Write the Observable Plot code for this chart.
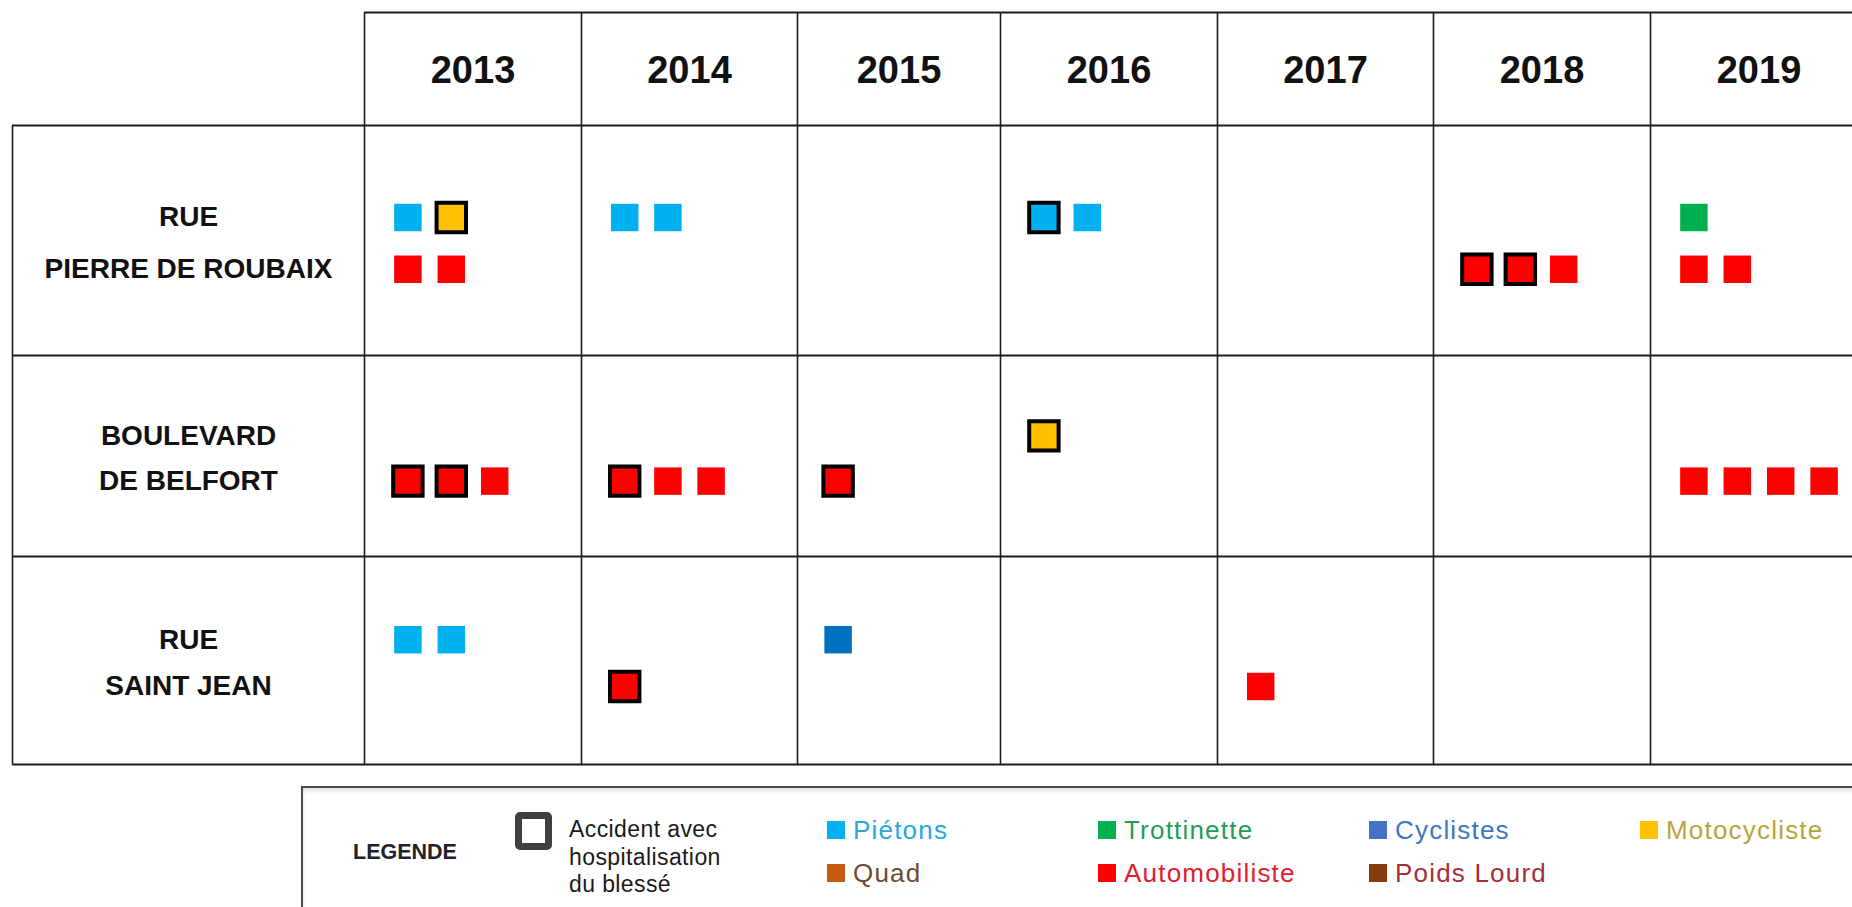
<!DOCTYPE html>
<html lang="fr">
<head>
<meta charset="utf-8">
<script src="https://cdn.jsdelivr.net/npm/d3@7"></script>
<script src="https://cdn.jsdelivr.net/npm/@observablehq/plot@0.6"></script>
<style>
  html, body { margin: 0; padding: 0; background: #fff; overflow: hidden; }
  #page { position: relative; width: 1852px; height: 907px; overflow: hidden; background: #fff; }
  #chart { position: absolute; left: 0; top: 0; }
  #legendBox {
    position: absolute; left: 301px; top: 786px; width: 1700px; height: 200px;
    border: 2px solid #4a4a4a; box-shadow: inset 0 3px 4px rgba(0,0,0,0.13); box-sizing: border-box;
  }
  #legendTitle {
    position: absolute; left: 353px; top: 842px; font: bold 21.5px/1 "Liberation Sans", Arial, sans-serif;
    color: #23202a;
  }
  #hospIcon {
    position: absolute; left: 515px; top: 812px; width: 37px; height: 38px; box-sizing: border-box;
    border: 7px solid #404040; border-radius: 5px; background: #fff;
  }
  #hospText {
    position: absolute; left: 569px; top: 816px; font: 23px/27.5px "Liberation Sans", Arial, sans-serif;
    letter-spacing: 0.4px; color: #1a1a1a;
  }
  #legendItems {
    position: absolute; left: 827px; top: 817px; display: grid;
    grid-template-columns: repeat(4, 271px); grid-auto-rows: 43px;
  }
  .item { font: 26px/26px "Liberation Sans", Arial, sans-serif; letter-spacing: 1.2px; white-space: nowrap; }
  .sw { display: inline-block; width: 18px; height: 18px; margin-right: 8px; vertical-align: baseline; }
</style>
</head>
<body>
<div id="page">
  <div id="chart"></div>
  <div id="legendBox"></div>
  <div id="legendTitle">LEGENDE</div>
  <div id="hospIcon"></div>
  <div id="hospText">Accident avec<br>hospitalisation<br>du blessé</div>
  <div id="legendItems"></div>
</div>
<script>
// ---------- DATA ----------
const years = [2013, 2014, 2015, 2016, 2017, 2018, 2019];
const streets = ["RUE\nPIERRE DE ROUBAIX", "BOULEVARD\nDE BELFORT", "RUE\nSAINT JEAN"];

// user types (legend order: row 1 then row 2)
const types = ["Piétons", "Trottinette", "Cyclistes", "Motocycliste", "Quad", "Automobiliste", "Poids Lourd"];
const typeColors = ["#00B0F0", "#00B050", "#0070C0", "#FFC000", "#C55A11", "#FF0000", "#843C0C"];
const legendSwatches = ["#00B0F0", "#00B050", "#4472C4", "#FFC000", "#C55A11", "#FF0000", "#843C0C"];
const legendTextColors = ["#27A7DE", "#1E9E58", "#3B77C2", "#B9A33A", "#6E4B32", "#E2202B", "#A62E3C"];

// accidents: [street index, year, type, hospitalisation]
const accidents = [
  [0, 2013, "Piétons", false], [0, 2013, "Motocycliste", true],
  [0, 2013, "Automobiliste", false], [0, 2013, "Automobiliste", false],
  [0, 2014, "Piétons", false], [0, 2014, "Piétons", false],
  [0, 2016, "Piétons", true], [0, 2016, "Piétons", false],
  [0, 2018, "Automobiliste", true], [0, 2018, "Automobiliste", true], [0, 2018, "Automobiliste", false],
  [0, 2019, "Trottinette", false], [0, 2019, "Automobiliste", false], [0, 2019, "Automobiliste", false],
  [1, 2013, "Automobiliste", true], [1, 2013, "Automobiliste", true], [1, 2013, "Automobiliste", false],
  [1, 2014, "Automobiliste", true], [1, 2014, "Automobiliste", false], [1, 2014, "Automobiliste", false],
  [1, 2015, "Automobiliste", true],
  [1, 2016, "Motocycliste", true],
  [1, 2019, "Automobiliste", false], [1, 2019, "Automobiliste", false],
  [1, 2019, "Automobiliste", false], [1, 2019, "Automobiliste", false],
  [2, 2013, "Piétons", false], [2, 2013, "Piétons", false],
  [2, 2014, "Automobiliste", true],
  [2, 2015, "Cyclistes", false],
  [2, 2017, "Automobiliste", false]
];

// ---------- LAYOUT ----------
// scale units: column i spans [i, i+1], street row j spans [j, j+1];
// the street-name column is [-1, 0] and the year header row is [-1, 0].
const LINE_Y = [0.40, 0.625];   // upper line (others) / lower line (cars) inside a row

const counters = new Map();
const rows = accidents.map(([s, year, type, hosp]) => {
  const line = type === "Automobiliste" ? 1 : 0;
  const key = `${s}|${year}|${line}`;
  const slot = counters.get(key) || 0;
  counters.set(key, slot + 1);
  return {street: s, year, type, hosp, line, slot};
});
const px = d => years.indexOf(d.year) + (d.slot + 1) / 5;
const py = d => d.street + LINE_Y[d.line];

const colEdges = d3.range(years.length + 1);
const rowEdges = d3.range(streets.length + 1);
const labelLines = streets.flatMap((s, i) => s.split("\n").map((t, k) => ({t, i, k})));
const ink = "#1c1c1c";

// piecewise grid geometry (columns / rows of slightly different sizes)
const colPx = [12, 364, 581, 797, 1000, 1217, 1433, 1650, 1867];
const rowPx = [12, 125, 355, 556, 764];
const xWarp = d3.scaleLinear().domain([-1, ...colEdges]).range(colPx);
const yWarp = d3.scaleLinear().domain([-1, ...rowEdges]).range(rowPx);

const chart = Plot.plot({
  width: 1852,
  height: 775,
  x: {type: "linear", transform: xWarp, domain: [colPx[0], colPx[colPx.length - 1]],
      range: [colPx[0], colPx[colPx.length - 1]], axis: null},
  y: {type: "linear", transform: yWarp, domain: [rowPx[0], rowPx[rowPx.length - 1]],
      range: [rowPx[0], rowPx[rowPx.length - 1]], axis: null},
  color: {domain: types, range: typeColors},
  style: {fontFamily: "'Liberation Sans', Arial, sans-serif", background: "white"},
  marks: [
    Plot.ruleX(colEdges, {x: d => d, y1: -1, y2: streets.length, stroke: ink, strokeWidth: 1.6}),
    Plot.ruleX([-1], {x: d => d, y1: 0, y2: streets.length, stroke: ink, strokeWidth: 1.6}),
    Plot.ruleY([-1], {y: d => d, x1: 0, x2: years.length, stroke: ink, strokeWidth: 2}),
    Plot.ruleY(rowEdges, {y: d => d, x1: -1, x2: years.length, stroke: ink, strokeWidth: 2}),
    Plot.text(years, {x: (d, i) => i + 0.5, y: -0.5, dy: 2, text: d => String(d),
      fontSize: 38, fontWeight: "bold", fill: "#111"}),
    Plot.text(labelLines, {x: -0.5, y: d => d.i + LINE_Y[d.k], text: "t",
      fontSize: 28, fontWeight: "bold", fill: "#111"}),
    Plot.dot(rows.filter(d => !d.hosp), {x: px, y: py, fill: "type", symbol: "square", r: 15.5}),
    Plot.dot(rows.filter(d => d.hosp), {x: px, y: py, fill: "type", symbol: "square", r: 16.6,
      stroke: "#000", strokeWidth: 4})
  ]
});
document.getElementById("chart").appendChild(chart);

// ---------- LEGEND ----------
const items = document.getElementById("legendItems");
types.forEach((t, i) => {
  const div = document.createElement("div");
  div.className = "item";
  div.style.color = legendTextColors[i];
  const sw = document.createElement("span");
  sw.className = "sw";
  sw.style.background = legendSwatches[i];
  div.appendChild(sw);
  div.appendChild(document.createTextNode(t));
  items.appendChild(div);
});
</script>
</body>
</html>
